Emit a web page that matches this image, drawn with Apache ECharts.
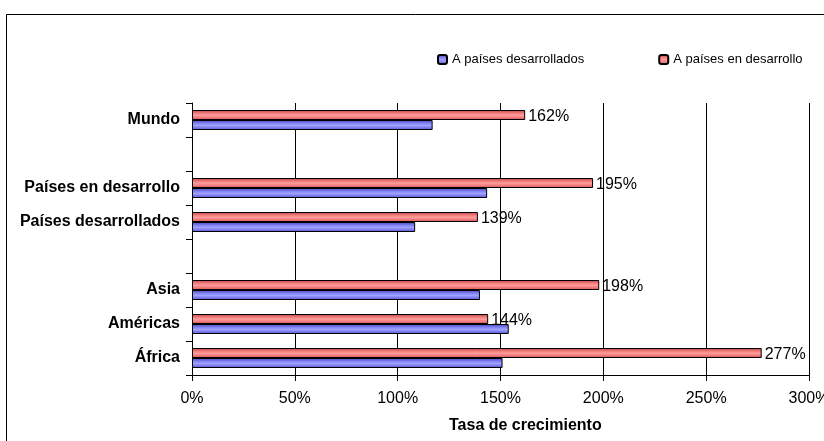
<!DOCTYPE html>
<html>
<head>
<meta charset="utf-8">
<script src="https://cdn.jsdelivr.net/npm/echarts@6/dist/echarts.min.js"></script>
<style>
html,body{margin:0;padding:0;background:#fff;}
#c{width:824px;height:441px;}
</style>
</head>
<body>
<div id="c"></div>
<script>
const categories = ['África', 'Américas', 'Asia', ' ', 'Países desarrollados', 'Países en desarrollo', '  ', 'Mundo'];
const seriesNames = ['A países desarrollados', 'A países en desarrollo'];
const toDeveloped = [151, 154, 140, null, 108.5, 143.5, null, 117];
const toDeveloping = [277, 144, 198, null, 139, 195, null, 162];
const xTicks = [0, 50, 100, 150, 200, 250, 300];
const axisTitle = 'Tasa de crecimiento';

const FONT = 'Liberation Sans, Arial, sans-serif';
function grad(c0, c1, c2, c3) {
  return new echarts.graphic.LinearGradient(0, 0, 0, 1, [
    {offset: 0, color: c0},
    {offset: 0.4, color: c1},
    {offset: 0.55, color: c2},
    {offset: 1, color: c3}
  ]);
}
const chart = echarts.init(document.getElementById('c'), null, {renderer: 'canvas'});
chart.setOption({
  animation: false,
  backgroundColor: '#fff',
  textStyle: {fontFamily: FONT},
  graphic: [{
    type: 'rect', shape: {x: 6.5, y: 14.5, width: 840, height: 450},
    style: {fill: 'none', stroke: '#000', lineWidth: 1}, silent: true, z: -1
  }],
  title: {
    text: axisTitle, left: 444, top: 413,
    textStyle: {fontFamily: FONT, fontSize: 16, fontWeight: 'bold', color: '#000'}
  },
  legend: {
    top: 48, left: 432, itemWidth: 9, itemHeight: 9, itemGap: 74,
    textStyle: {fontFamily: FONT, fontSize: 13, color: '#000'},
    data: seriesNames
  },
  grid: {left: 192, right: 15, top: 103, bottom: 66, containLabel: false, outerBoundsMode: 'none'},
  xAxis: {
    type: 'value', min: xTicks[0], max: xTicks[xTicks.length - 1], interval: 50,
    axisLine: {show: true, lineStyle: {color: '#000', width: 1}},
    axisTick: {show: true, length: 6, lineStyle: {color: '#000'}},
    axisLabel: {formatter: '{value}%', fontFamily: FONT, fontSize: 16, color: '#000', margin: 16},
    splitLine: {show: true, lineStyle: {color: '#000', width: 1}}
  },
  yAxis: {
    type: 'category', data: categories,
    axisLine: {show: true, lineStyle: {color: '#000', width: 1}},
    axisTick: {show: true, length: 6, lineStyle: {color: '#000'}},
    axisLabel: {fontFamily: FONT, fontSize: 16, fontWeight: 'bold', color: '#000', margin: 12, padding: [3, 0, 0, 0]},
    splitLine: {show: false}
  },
  series: [{
    name: seriesNames[1], type: 'bar', data: toDeveloping,
    barWidth: 10, barGap: '0%',
    itemStyle: {color: grad('#b84444', '#ff8a8a', '#ff9a9a', '#d85454'), borderColor: '#000', borderWidth: 1},
    label: {show: true, position: 'right', distance: 3, offset: [0, 2], formatter: '{c}%', fontFamily: FONT, fontSize: 16, color: '#000'}
  }, {
    name: seriesNames[0], type: 'bar', data: toDeveloped,
    barWidth: 10, barGap: '0%',
    itemStyle: {color: grad('#4444b8', '#8e8eff', '#a0a0ff', '#5454d8'), borderColor: '#000', borderWidth: 1}
  }]
});
</script>
</body>
</html>
